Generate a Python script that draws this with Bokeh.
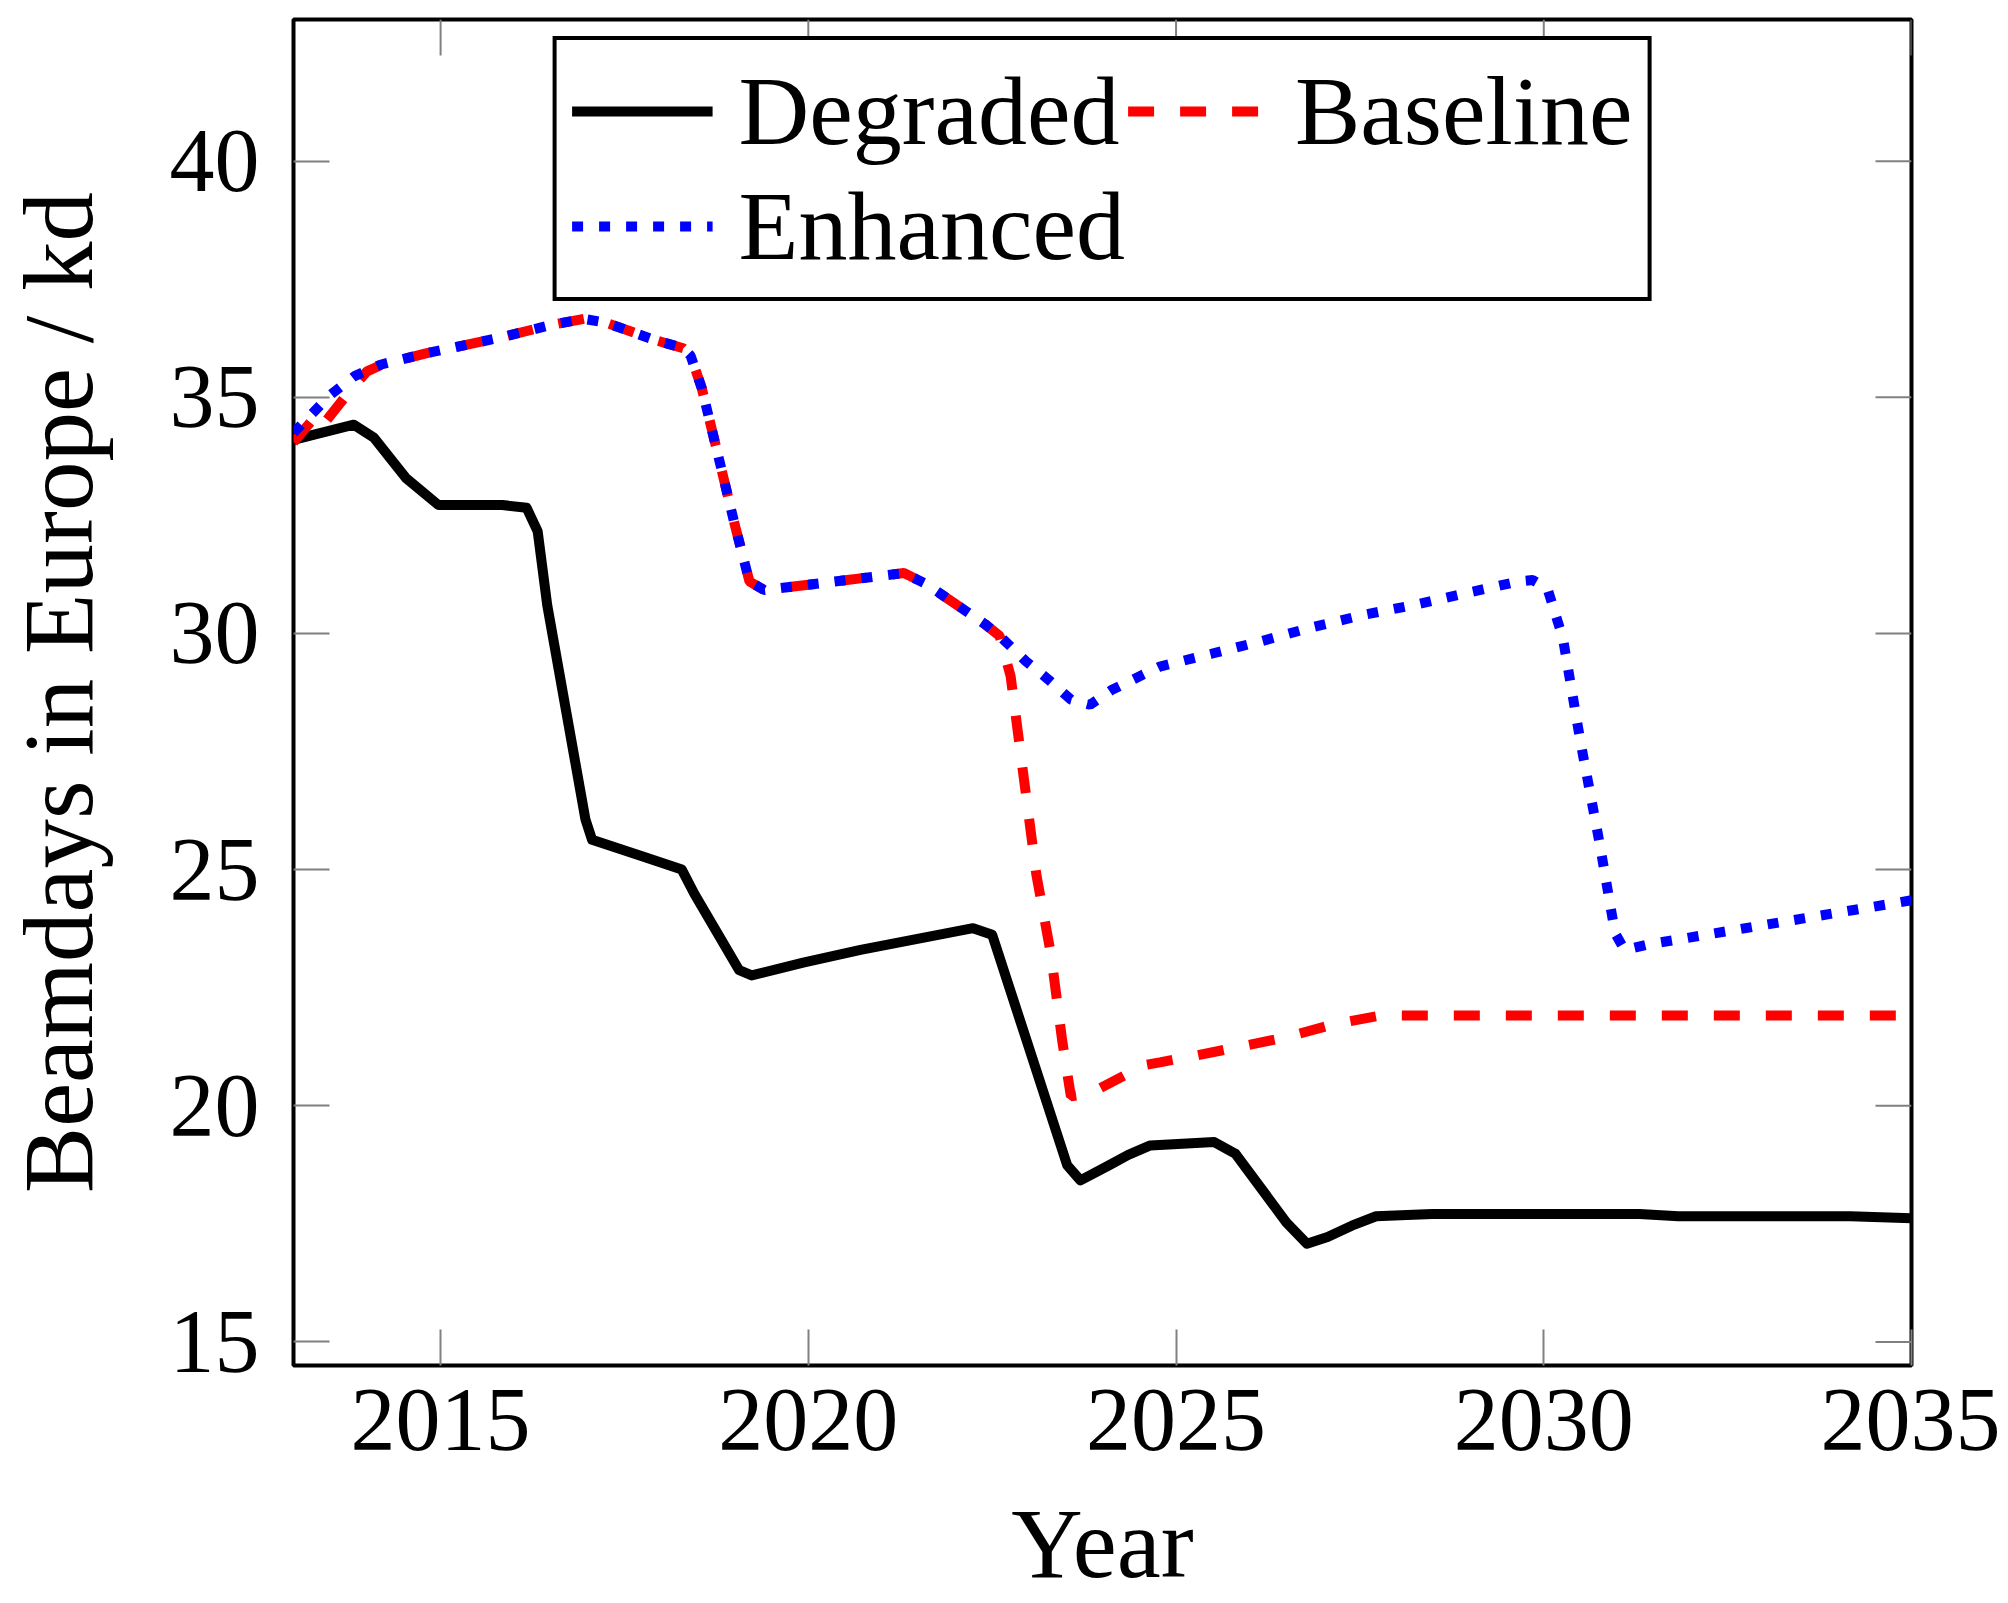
import math
from bokeh.plotting import figure
from bokeh.models import FixedTicker, Range1d, Legend, LegendItem
from bokeh.embed import file_html
from bokeh.resources import INLINE

# ---------------- data ----------------
years_degraded = [2013.0, 2013.82, 2014.09, 2014.53, 2014.97, 2015.84, 2016.17, 2016.32,
                  2016.45, 2016.71, 2016.97, 2017.06, 2017.75, 2018.28, 2018.45, 2019.06,
                  2019.23, 2019.93, 2020.71, 2022.24, 2022.5, 2023.52, 2023.70, 2024.09,
                  2024.35, 2024.65, 2025.52, 2025.81, 2026.5, 2026.78, 2027.06, 2027.39,
                  2027.72, 2028.48, 2031.3, 2031.83, 2034.17, 2035.0]
degraded = [34.1, 34.42, 34.15, 33.29, 32.72, 32.72, 32.66, 32.16,
            30.6, 28.33, 26.06, 25.63, 25.28, 25.0, 24.49, 22.87,
            22.76, 23.03, 23.3, 23.76, 23.62, 18.74, 18.42, 18.74,
            18.96, 19.16, 19.23, 18.98, 17.53, 17.08, 17.22, 17.46,
            17.66, 17.71, 17.71, 17.66, 17.66, 17.62]

years_baseline = [2013.0, 2013.3, 2013.4, 2013.75, 2014.0, 2014.2, 2014.8, 2015.8, 2016.5,
                  2016.95, 2017.25, 2017.9, 2018.3, 2018.4, 2018.55, 2018.8, 2019.0, 2019.2,
                  2019.4, 2020.0, 2021.3, 2021.6, 2022.4, 2022.6, 2022.75, 2023.1, 2023.3,
                  2023.45, 2023.57, 2023.83, 2024.57, 2024.78, 2025.3, 2026.5, 2027.13,
                  2027.78, 2035.0]
baseline = [34.05, 34.6, 34.42, 35.1, 35.55, 35.69, 35.93, 36.26, 36.53,
            36.66, 36.58, 36.22, 36.04, 35.88, 35.2, 33.6, 32.3, 31.1,
            30.92, 31.03, 31.28, 31.05, 30.2, 29.95, 29.1, 24.9, 23.2,
            21.4, 20.2, 20.26, 20.86, 20.92, 21.07, 21.45, 21.72,
            21.91, 21.91]

years_enhanced = [2013.0, 2013.5, 2013.83, 2014.18, 2014.8, 2015.8, 2016.5, 2016.95, 2017.25,
                  2017.9, 2018.3, 2018.4, 2018.55, 2018.8, 2019.0, 2019.2, 2019.4, 2020.0,
                  2021.3, 2021.6, 2022.4, 2022.6, 2022.96, 2023.26, 2023.57, 2023.83,
                  2024.13, 2024.78, 2025.48, 2026.17, 2026.87, 2027.57, 2028.26, 2028.96,
                  2029.65, 2029.85, 2030.05, 2030.26, 2030.5, 2030.76, 2030.97, 2031.1,
                  2031.4, 2035.0]
enhanced = [34.25, 35.05, 35.45, 35.69, 35.93, 36.26, 36.53, 36.66, 36.58,
            36.22, 36.04, 35.88, 35.2, 33.6, 32.3, 31.1, 30.92, 31.03,
            31.28, 31.05, 30.2, 29.95, 29.41, 29.03, 28.6, 28.49,
            28.81, 29.3, 29.57, 29.84, 30.14, 30.4, 30.61, 30.86,
            31.1, 31.13, 30.95, 29.9, 27.7, 25.55, 23.65, 23.3,
            23.41, 24.35]

x_ticks = [2015, 2020, 2025, 2030, 2035]
y_ticks = [15, 20, 25, 30, 35, 40]
x_label = "Year"
y_label = "Beamdays in Europe / kd"

SERIF = "Liberation Serif"
X_START, X_END = 2013, 2035
Y_START, Y_END = 14.5, 43.0

p = figure(width=2000, height=1603,
           x_range=Range1d(X_START, X_END), y_range=Range1d(Y_START, Y_END),
           output_backend="svg", toolbar_location=None)
p.min_border_left = 292
p.min_border_right = 89
p.min_border_top = 19
p.min_border_bottom = 238
p.xgrid.visible = False
p.ygrid.visible = False
p.outline_line_color = "black"
p.outline_line_width = 4
p.outline_line_alpha = 1.0
p.background_fill_color = "white"
p.border_fill_color = "white"

for ax, ticks in ((p.xaxis[0], x_ticks), (p.yaxis[0], y_ticks)):
    ax.ticker = FixedTicker(ticks=ticks)
    ax.axis_line_color = None
    ax.major_tick_in = 36
    ax.major_tick_out = 0
    ax.major_tick_line_color = "#808080"
    ax.major_tick_line_width = 2
    ax.minor_tick_line_color = None
    ax.major_label_text_font = SERIF
    ax.major_label_text_font_size = "90px"
    ax.major_label_text_color = "black"
    ax.axis_label_text_font = SERIF
    ax.axis_label_text_font_size = "99px"
    ax.axis_label_text_font_style = "normal"
    ax.axis_label_text_color = "black"

p.xaxis[0].major_label_standoff = 24
p.yaxis[0].major_label_standoff = 34
p.xaxis[0].axis_label = x_label
p.yaxis[0].axis_label = y_label
p.xaxis[0].axis_label_standoff = 36
p.yaxis[0].axis_label_standoff = 54

# mirrored tick marks on the top and right frame edges
p.ray(x=x_ticks, y=[Y_END] * len(x_ticks), length=36, length_units="screen",
      angle=-math.pi / 2, line_color="#808080", line_width=2)
p.ray(x=[X_END] * len(y_ticks), y=y_ticks, length=36, length_units="screen",
      angle=math.pi, line_color="#808080", line_width=2)

r_deg = p.line(years_degraded, degraded, line_color="black", line_width=10,
               line_join="round")
r_base = p.line(years_baseline, baseline, line_color="#ff0000", line_width=10,
                line_dash="26 26", line_cap="butt")
r_enh = p.line(years_enhanced, enhanced, line_color="#0000ff", line_width=10,
               line_dash="11 16", line_cap="butt")

legend = Legend(items=[LegendItem(label="Degraded", renderers=[r_deg]),
                       LegendItem(label="Baseline", renderers=[r_base]),
                       LegendItem(label="Enhanced", renderers=[r_enh])],
                location="top_center", orientation="horizontal", ncols=2,
                label_text_font=SERIF, label_text_font_size="98px",
                label_text_color="black",
                glyph_width=141, glyph_height=60, label_standoff=26,
                padding=15, spacing=3, margin=17,
                border_line_color="black", border_line_width=4, border_line_alpha=1.0,
                background_fill_color="white", background_fill_alpha=1.0)
p.add_layout(legend)

open("out.html", "w").write(file_html(p, INLINE))
